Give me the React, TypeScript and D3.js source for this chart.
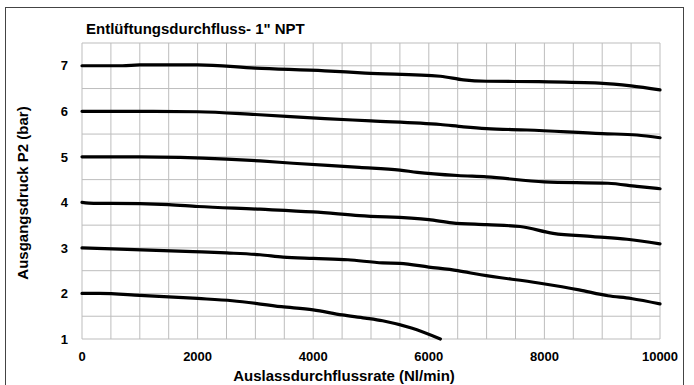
import React from "react";
import * as d3 from "d3";

const title = "Entlüftungsdurchfluss- 1\" NPT";
const xTitle = "Auslassdurchflussrate (Nl/min)";
const yTitle = "Ausgangsdruck P2 (bar)";

const xTicks = [0, 2000, 4000, 6000, 8000, 10000];
const yTicks = [1, 2, 3, 4, 5, 6, 7];

const curve7: [number, number][] = [
  [0, 7.0], [700, 7.0], [1000, 7.02], [2000, 7.02], [3000, 6.95], [4200, 6.89],
  [4900, 6.84], [6200, 6.77], [6600, 6.69], [7000, 6.66], [7900, 6.65],
  [8950, 6.62], [9500, 6.56], [10000, 6.47],
];
const curve6: [number, number][] = [
  [0, 6.0], [1000, 6.0], [2000, 5.99], [3000, 5.93], [4200, 5.84], [5000, 5.79],
  [6200, 5.71], [6600, 5.66], [7000, 5.62], [7700, 5.59], [9000, 5.51],
  [9600, 5.48], [10000, 5.42],
];
const curve5: [number, number][] = [
  [0, 5.0], [1000, 5.0], [2500, 4.95], [3080, 4.91], [3650, 4.86], [4800, 4.77],
  [5500, 4.71], [5800, 4.66], [6500, 4.59], [7000, 4.56], [8000, 4.45],
  [9100, 4.42], [9600, 4.35], [10000, 4.3],
];
const curve4: [number, number][] = [
  [0, 4.0], [200, 3.98], [500, 3.98], [1500, 3.95], [2000, 3.91], [3080, 3.85],
  [4000, 3.79], [4800, 3.71], [6000, 3.62], [6400, 3.55], [7000, 3.51],
  [7580, 3.47], [8150, 3.32], [8840, 3.25], [9430, 3.19], [10000, 3.09],
];
const curve3: [number, number][] = [
  [0, 3.0], [780, 2.97], [1920, 2.92], [2500, 2.89], [3080, 2.85], [3480, 2.8],
  [4000, 2.77], [4600, 2.74], [5200, 2.67], [5500, 2.66], [6000, 2.58],
  [6500, 2.5], [6900, 2.41], [7900, 2.23], [8600, 2.08], [9100, 1.95],
  [9500, 1.89], [10000, 1.77],
];
const curve2: [number, number][] = [
  [0, 2.0], [300, 2.0], [1000, 1.96], [2000, 1.89], [2600, 1.84], [3450, 1.71],
  [4000, 1.64], [4500, 1.53], [4900, 1.46], [5200, 1.4], [5700, 1.24], [6200, 1.0],
];

const series = [curve7, curve6, curve5, curve4, curve3, curve2];

export default function App() {
  const W = 694;
  const H = 385;
  const left = 82;
  const right = 660;
  const top = 43;
  const bottom = 339;

  const x = d3.scaleLinear().domain([0, 10000]).range([left, right]);
  const y = d3.scaleLinear().domain([1, 7.5]).range([bottom, top]);

  const vGrid = d3.range(0, 10001, 500);
  const hGrid = d3.range(1, 7.51, 0.5);

  const line = d3
    .line<[number, number]>()
    .x((d) => x(d[0]))
    .y((d) => y(d[1]))
    .curve(d3.curveMonotoneX);

  const font = "'Liberation Sans', Arial, Helvetica, sans-serif";

  return (
    <svg
      width={W}
      height={H}
      style={{ position: "absolute", left: 0, top: 0, background: "#fff" }}
      fontFamily={font}
    >
      <rect x={5.5} y={7.5} width={678} height={400} fill="#fff" stroke="#444" strokeWidth={1} />
      <g>
        {vGrid.map((v) => (
          <line key={"v" + v} x1={x(v)} x2={x(v)} y1={top} y2={bottom} stroke="#bdbdbd" strokeWidth={1} />
        ))}
        {hGrid.map((v) => (
          <line key={"h" + v} x1={left} x2={right} y1={y(v)} y2={y(v)} stroke="#bdbdbd" strokeWidth={1} />
        ))}
      </g>
      {series.map((s, i) => (
        <path key={i} d={line(s) || ""} fill="none" stroke="#000" strokeWidth={3.2} strokeLinecap="round" strokeLinejoin="round" />
      ))}
      {yTicks.map((t) => (
        <text key={"yt" + t} x={68} y={y(t)} dy="0.36em" textAnchor="end" fontSize={13} fontWeight="bold" fill="#000">
          {t}
        </text>
      ))}
      {xTicks.map((t) => (
        <text key={"xt" + t} x={x(t)} y={361} textAnchor="middle" fontSize={13} fontWeight="bold" fill="#000">
          {t}
        </text>
      ))}
      <text x={86} y={34} fontSize={15} fontWeight="bold" fill="#000">
        {title}
      </text>
      <text x={344} y={381} textAnchor="middle" fontSize={15} fontWeight="bold" fill="#000">
        {xTitle}
      </text>
      <text
        transform={`translate(28,193) rotate(-90)`}
        textAnchor="middle"
        fontSize={15}
        fontWeight="bold"
        fill="#000"
      >
        {yTitle}
      </text>
    </svg>
  );
}
